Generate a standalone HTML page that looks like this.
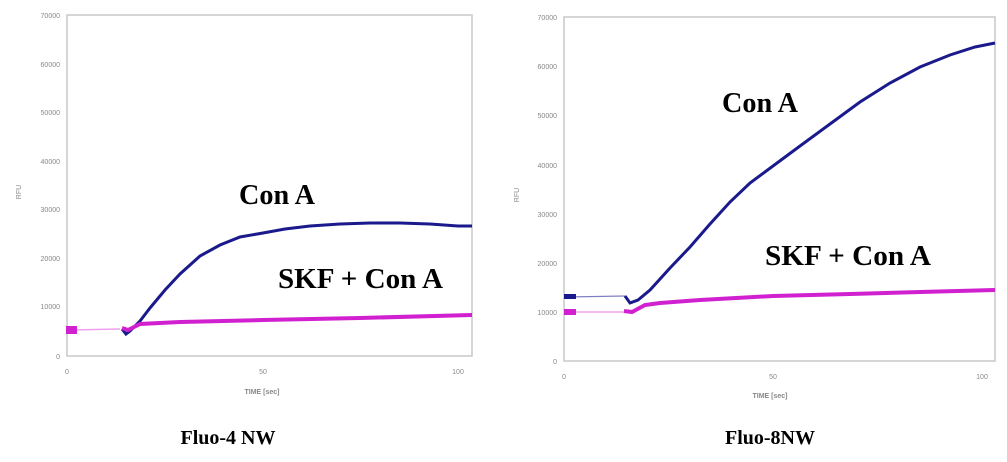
<!DOCTYPE html>
<html><head><style>
body{margin:0;background:#fff;}
svg{display:block;}
.t{font-family:"Liberation Sans",sans-serif;font-size:7px;fill:#888;}
.b{font-family:"Liberation Serif",serif;font-weight:bold;fill:#000;}
</style></head><body>
<svg width="1007" height="462" viewBox="0 0 1007 462" xmlns="http://www.w3.org/2000/svg">
<!-- Left chart -->
<rect x="67" y="15" width="405" height="341" fill="none" stroke="#c8c8c8" stroke-width="1.5"/>
<g class="t" text-anchor="end">
<text x="60" y="18">70000</text><text x="60" y="67">60000</text><text x="60" y="115">50000</text>
<text x="60" y="164">40000</text><text x="60" y="212">30000</text><text x="60" y="261">20000</text>
<text x="60" y="309">10000</text><text x="60" y="359">0</text>
</g>
<g class="t" text-anchor="middle">
<text x="67" y="374">0</text><text x="263" y="374">50</text><text x="458" y="374">100</text>
<text x="262" y="394" font-weight="bold">TIME [sec]</text>
</g>
<text class="t" transform="translate(21,192) rotate(-90)" text-anchor="middle">RFU</text>
<polyline fill="none" stroke="#f0a0f0" stroke-width="1.5" points="70,330 120,329"/>
<polyline fill="none" stroke="#1a1a8c" stroke-width="3" points="122,329 126,334 130,331 140,321 150,308 165,290 180,274 200,256 220,245 240,237 263,233 285,229 310,226 340,224 370,223 400,223 430,224 458,226 472,226"/>
<polyline fill="none" stroke="#d020d0" stroke-width="4" points="122,328 128,330 140,324 180,322 263,320 360,318 472,315"/>
<rect x="66" y="326" width="11" height="8" fill="#d020d0"/>
<text class="b" x="239" y="204" font-size="28" textLength="76" lengthAdjust="spacingAndGlyphs">Con A</text>
<text class="b" x="278" y="288" font-size="28" textLength="165" lengthAdjust="spacingAndGlyphs">SKF + Con A</text>
<text class="b" x="228" y="444" font-size="20" text-anchor="middle">Fluo-4 NW</text>

<!-- Right chart -->
<rect x="564" y="17" width="431" height="344" fill="none" stroke="#c8c8c8" stroke-width="1.5"/>
<g class="t" text-anchor="end">
<text x="557" y="20">70000</text><text x="557" y="69">60000</text><text x="557" y="118">50000</text>
<text x="557" y="168">40000</text><text x="557" y="217">30000</text><text x="557" y="266">20000</text>
<text x="557" y="315">10000</text><text x="557" y="364">0</text>
</g>
<g class="t" text-anchor="middle">
<text x="564" y="379">0</text><text x="773" y="379">50</text><text x="982" y="379">100</text>
<text x="770" y="398" font-weight="bold">TIME [sec]</text>
</g>
<text class="t" transform="translate(519,195) rotate(-90)" text-anchor="middle">RFU</text>
<polyline fill="none" stroke="#8080c0" stroke-width="1.2" points="566,297 625,296"/>
<rect x="564" y="294" width="12" height="5" fill="#1a1a8c"/>
<polyline fill="none" stroke="#1a1a8c" stroke-width="3" points="625,296 630,303 638,300 650,290 670,268 690,247 710,224 730,202 750,183 773,166 800,146 830,124 860,102 890,83 920,67 950,55 975,47 995,43"/>
<polyline fill="none" stroke="#f0a0f0" stroke-width="1.5" points="566,312 625,312"/>
<rect x="564" y="309" width="12" height="6" fill="#d020d0"/>
<polyline fill="none" stroke="#d020d0" stroke-width="4" points="624,311 632,312 645,305 660,303 700,300 773,296 850,294 920,292 995,290"/>
<text class="b" x="722" y="112" font-size="28" textLength="76" lengthAdjust="spacingAndGlyphs">Con A</text>
<text class="b" x="765" y="265" font-size="28" textLength="166" lengthAdjust="spacingAndGlyphs">SKF + Con A</text>
<text class="b" x="770" y="444" font-size="20" text-anchor="middle">Fluo-8NW</text>
</svg>
</body></html>
